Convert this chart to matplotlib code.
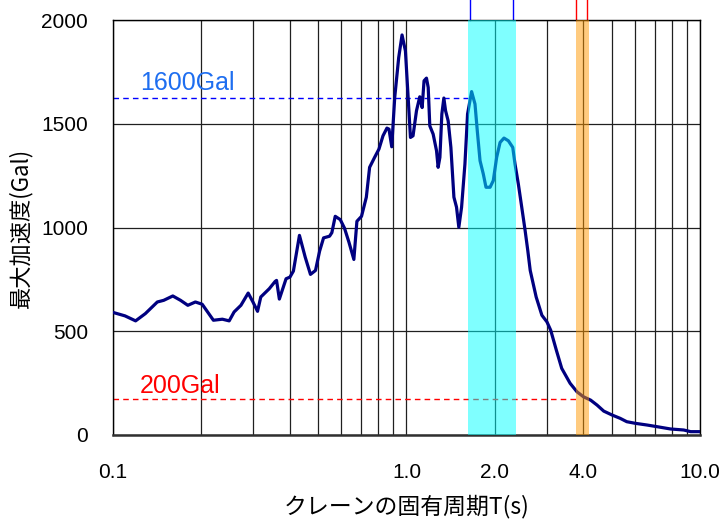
import matplotlib
matplotlib.use('Agg')
from matplotlib import pyplot as plt
from matplotlib.ticker import FixedLocator, NullFormatter

plt.rcParams['font.family'] = ['Liberation Sans', 'Noto Sans CJK JP', 'DejaVu Sans']

# 応答スペクトル (読み取り値)
periods = [0.1005, 0.110, 0.1195, 0.129, 0.1417, 0.149, 0.160, 0.170, 0.180, 0.191,
           0.2015, 0.220, 0.236, 0.249, 0.2588, 0.273, 0.289, 0.300, 0.311, 0.319,
           0.341, 0.357, 0.361, 0.369, 0.389, 0.401, 0.412, 0.432, 0.452, 0.471,
           0.490, 0.506, 0.522, 0.547, 0.557, 0.572, 0.595, 0.615, 0.637, 0.662,
           0.678, 0.703, 0.730, 0.749, 0.779, 0.806, 0.832, 0.858, 0.872, 0.891,
           0.912, 0.941, 0.966, 0.992, 1.032, 1.053, 1.082, 1.110, 1.131, 1.148,
           1.170, 1.186, 1.201, 1.233, 1.266, 1.282, 1.300, 1.320, 1.341, 1.359,
           1.387, 1.417, 1.451, 1.481, 1.508, 1.541, 1.582, 1.615, 1.667, 1.712,
           1.743, 1.781, 1.827, 1.866, 1.927, 1.976, 2.029, 2.084, 2.149, 2.224,
           2.302, 2.343, 2.405, 2.470, 2.536, 2.590, 2.64, 2.766, 2.893, 3.01,
           3.10, 3.24, 3.38, 3.61, 3.81, 4.01, 4.24, 4.46, 4.70, 5.02,
           5.35, 5.63, 6.03, 6.60, 7.14, 7.93, 8.80, 9.29, 10.0]
accel = [590, 574, 550, 585, 641, 649, 670, 649, 625, 641,
         630, 553, 558, 550, 593, 625, 684, 641, 596, 665,
         705, 740, 745, 655, 753, 761, 790, 962, 857, 774,
         793, 886, 950, 958, 975, 1054, 1038, 997, 929, 846,
         1030, 1054, 1146, 1290, 1338, 1378, 1442, 1479, 1474, 1389,
         1626, 1819, 1928, 1851, 1434, 1442, 1563, 1630, 1578, 1707,
         1720, 1675, 1490, 1450, 1370, 1290, 1338, 1547, 1624, 1563,
         1514, 1386, 1146, 1098, 1001, 1098, 1306, 1547, 1655, 1595,
         1466, 1322, 1258, 1194, 1194, 1226, 1338, 1410, 1431, 1418,
         1386, 1306, 1210, 1098, 986, 889, 793, 665, 577, 545,
         505, 409, 321, 249, 208, 184, 168, 144, 115, 96,
         80, 64, 56, 48, 40, 29, 24, 16, 16]

xticks = [0.1, 1.0, 2.0, 4.0, 10.0]
xtick_labels = ['0.1', '1.0', '2.0', '4.0', '10.0']
yticks = [0, 500, 1000, 1500, 2000]

crane_band = (1.62, 2.37)      # 水色の帯
orange_band = (3.79, 4.2)      # オレンジの帯
line_1600 = 1625
line_200 = 173

fig = plt.figure(figsize=(7.19, 5.2), dpi=100)
ax = fig.add_axes([0.157, 0.1635, 0.8166, 0.798])

ax.plot(periods, accel, color='#000080', lw=2.3, zorder=3)

# 帯 (線の上に半透明で重ねる)
ax.axvspan(crane_band[0], crane_band[1], color='#00FFFF', alpha=0.5, lw=0, zorder=4)
ax.axvspan(orange_band[0], orange_band[1], color='#FF9900', alpha=0.5, lw=0, zorder=4)

# 基準線
ax.plot([0.1, crane_band[0]], [line_1600, line_1600], color='#0000FF', lw=1,
        ls=(0, (4, 3)), zorder=2)
ax.plot([0.1, orange_band[0]], [line_200, line_200], color='#FF0000', lw=1,
        ls=(0, (4, 3)), zorder=2)
ax.text(0.1236, 1698, '1600Gal', color='#1E6EF0', fontsize=18, va='center')
ax.text(0.1236, 237, '200Gal', color='#FF0000', fontsize=18, va='center')

# 枠の外に出ている線
ax.plot([1.64, 1.64], [2000, 2120], color='#0000FF', lw=1, clip_on=False)
ax.plot([2.31, 2.31], [2000, 2120], color='#0000FF', lw=1, clip_on=False)
ax.plot([3.79, 3.79], [2000, 2120], color='#FF0000', lw=1, clip_on=False)
ax.plot([4.13, 4.13], [2000, 2120], color='#FF0000', lw=1, clip_on=False)

ax.set_xscale('log')
ax.set_xlim(0.1, 10)
ax.set_ylim(0, 2000)

ax.xaxis.set_major_locator(FixedLocator(xticks))
ax.set_xticklabels(xtick_labels)
ax.xaxis.set_minor_locator(FixedLocator([0.2, 0.3, 0.4, 0.5, 0.6, 0.7, 0.8, 0.9,
                                         3, 5, 6, 7, 8, 9]))
ax.xaxis.set_minor_formatter(NullFormatter())
ax.set_yticks(yticks)

ax.grid(True, which='both', axis='x', color='#202020', lw=0.9, zorder=1)
ax.grid(True, which='major', axis='y', color='#202020', lw=0.9, zorder=1)
ax.set_axisbelow(True)
ax.tick_params(axis='both', which='both', length=0, labelsize=15)
ax.tick_params(axis='x', pad=20)
ax.tick_params(axis='y', pad=18)
for s in ax.spines.values():
    s.set_linewidth(1)
ax.spines['bottom'].set_linewidth(1.8)
ax.spines['bottom'].set_color('#303030')

ax.set_xlabel('クレーンの固有周期T(s)', fontsize=16.5,
              family=['Noto Sans CJK JP', 'DejaVu Sans'], labelpad=9)
ax.set_ylabel('最大加速度(Gal)', fontsize=16,
              family=['Noto Sans CJK JP', 'DejaVu Sans'], labelpad=6)

plt.savefig('out.png', dpi=100)
